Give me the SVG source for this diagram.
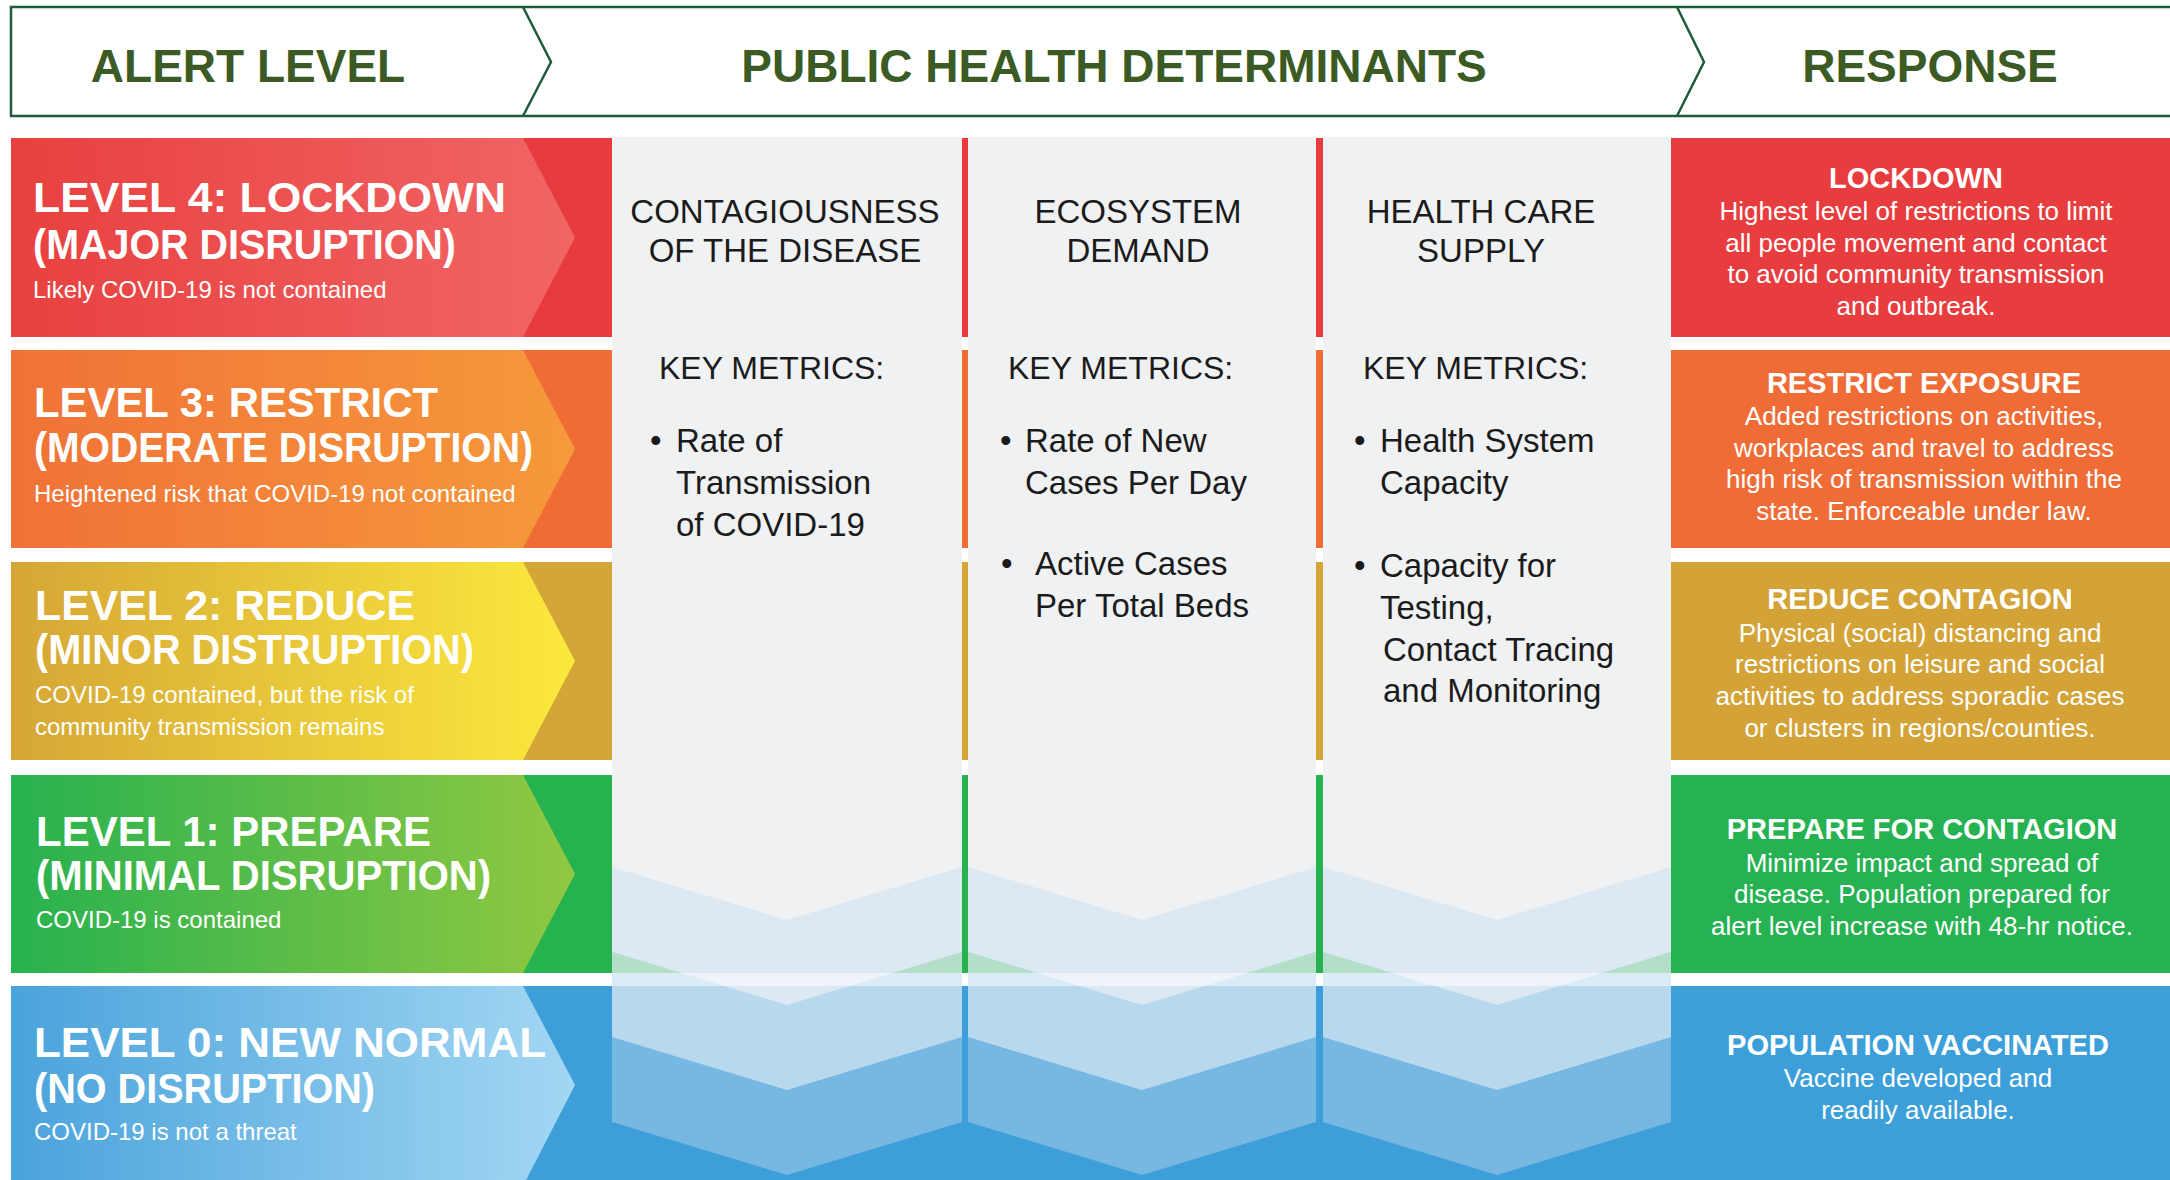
<svg xmlns="http://www.w3.org/2000/svg" width="2170" height="1180" viewBox="0 0 2170 1180">
<style>
text{font-family:"Liberation Sans",Arial,sans-serif}
.hdr{font-weight:bold;font-size:46px;fill:#3b5a24;text-anchor:middle}
.lt{font-weight:bold;font-size:42px;fill:#ffffff}
.ls{font-size:24px;fill:#ffffff}
.ch{font-size:33px;fill:#1b1b1b;text-anchor:middle}
.km{font-size:32px;fill:#1b1b1b}
.mt{font-size:33px;fill:#1b1b1b}
.rt{font-weight:bold;font-size:29px;fill:#ffffff;text-anchor:middle}
.rb{font-size:26px;fill:#ffffff;text-anchor:middle}
.col{fill:#f0f1f3}
.bA{fill:#dce9f2}
.bB{fill:#b8d8ee}
.bBg{fill:#b3dfc8}
.bC{fill:#77b8e3}
.bD{fill:#3d9ed9}
</style>
<defs>
<linearGradient id="g4" x1="0" y1="0" x2="1" y2="0"><stop offset="0" stop-color="#e8403f"/><stop offset="1" stop-color="#f16565"/></linearGradient>
<linearGradient id="g3" x1="0" y1="0" x2="1" y2="0"><stop offset="0" stop-color="#f07238"/><stop offset="1" stop-color="#f6993b"/></linearGradient>
<linearGradient id="g2" x1="0" y1="0" x2="1" y2="0"><stop offset="0" stop-color="#d5a636"/><stop offset="1" stop-color="#fce93d"/></linearGradient>
<linearGradient id="g1" x1="0" y1="0" x2="1" y2="0"><stop offset="0" stop-color="#27b24f"/><stop offset="1" stop-color="#91c841"/></linearGradient>
<linearGradient id="g0" x1="0" y1="0" x2="1" y2="0"><stop offset="0" stop-color="#4aa3dc"/><stop offset="1" stop-color="#a3d7f3"/></linearGradient>
</defs>

<rect x="0" y="0" width="2170" height="1180" fill="#ffffff"/>

<g id="header">
<path d="M2170,7 H11 V116 H2170" fill="none" stroke="#1e5b3c" stroke-width="2.5"/>
<path d="M523,7 L551,62 L523,116" fill="none" stroke="#1e5b3c" stroke-width="2.5"/>
<path d="M1677,7 L1704,62 L1677,116" fill="none" stroke="#1e5b3c" stroke-width="2.5"/>
<text class="hdr" x="248" y="82">ALERT LEVEL</text>
<text class="hdr" x="1114" y="82">PUBLIC HEALTH DETERMINANTS</text>
<text class="hdr" x="1930" y="82">RESPONSE</text>
</g>

<g id="level-4">
<rect x="11" y="138" width="601" height="199" fill="#e83b3e"/>
<polygon points="11,138 523,138 575,237.5 523,337 11,337" fill="url(#g4)"/>
<text class="lt" x="33" y="212" textLength="473" lengthAdjust="spacingAndGlyphs">LEVEL 4: LOCKDOWN</text>
<text class="lt" x="33" y="259" textLength="423" lengthAdjust="spacingAndGlyphs">(MAJOR DISRUPTION)</text>
<text class="ls" x="33" y="298">Likely COVID-19 is not contained</text>
</g>

<g id="level-3">
<rect x="11" y="350" width="601" height="198" fill="#ef6c35"/>
<polygon points="11,350 523,350 575,449 523,548 11,548" fill="url(#g3)"/>
<text class="lt" x="34" y="417" textLength="404" lengthAdjust="spacingAndGlyphs">LEVEL 3: RESTRICT</text>
<text class="lt" x="34" y="462" textLength="499" lengthAdjust="spacingAndGlyphs">(MODERATE DISRUPTION)</text>
<text class="ls" x="34" y="502">Heightened risk that COVID-19 not contained</text>
</g>

<g id="level-2">
<rect x="11" y="562" width="601" height="198" fill="#d4a537"/>
<polygon points="11,562 523,562 575,661 523,760 11,760" fill="url(#g2)"/>
<text class="lt" x="35" y="620" textLength="380" lengthAdjust="spacingAndGlyphs">LEVEL 2: REDUCE</text>
<text class="lt" x="35" y="664" textLength="439" lengthAdjust="spacingAndGlyphs">(MINOR DISTRUPTION)</text>
<text class="ls" x="35" y="703">COVID-19 contained, but the risk of</text>
<text class="ls" x="35" y="735">community transmission remains</text>
</g>

<g id="level-1">
<rect x="11" y="775" width="601" height="198" fill="#26b24f"/>
<polygon points="11,775 523,775 575,874 523,973 11,973" fill="url(#g1)"/>
<text class="lt" x="36" y="846" textLength="395" lengthAdjust="spacingAndGlyphs">LEVEL 1: PREPARE</text>
<text class="lt" x="36" y="890" textLength="455" lengthAdjust="spacingAndGlyphs">(MINIMAL DISRUPTION)</text>
<text class="ls" x="36" y="928">COVID-19 is contained</text>
</g>

<g id="level-0">
<rect x="11" y="986" width="601" height="200" fill="#3d9ed9"/>
<polygon points="11,986 523,986 575,1085 523,1186 11,1186" fill="url(#g0)"/>
<text class="lt" x="34" y="1057" textLength="512" lengthAdjust="spacingAndGlyphs">LEVEL 0: NEW NORMAL</text>
<text class="lt" x="34" y="1103" textLength="341" lengthAdjust="spacingAndGlyphs">(NO DISRUPTION)</text>
<text class="ls" x="34" y="1140">COVID-19 is not a threat</text>
</g>

<g id="dividers">
<rect x="962" y="138" width="6" height="199" fill="#e83b3e"/>
<rect x="962" y="350" width="6" height="198" fill="#ef6c35"/>
<rect x="962" y="562" width="6" height="198" fill="#d4a537"/>
<rect x="962" y="775" width="6" height="198" fill="#26b24f"/>
<rect x="962" y="986" width="6" height="194" fill="#3d9ed9"/>
<rect x="1316" y="138" width="7" height="199" fill="#e83b3e"/>
<rect x="1316" y="350" width="7" height="198" fill="#ef6c35"/>
<rect x="1316" y="562" width="7" height="198" fill="#d4a537"/>
<rect x="1316" y="775" width="7" height="198" fill="#26b24f"/>
<rect x="1316" y="986" width="7" height="194" fill="#3d9ed9"/>
</g>

<g id="col-contagiousness">
<rect class="col" x="612" y="137" width="350" height="1043"/>
<polygon class="bA" points="612,867 787,920 962,867 962,1180 612,1180"/>
<polygon class="bB" points="612,952 787,1005 962,952 962,1180 612,1180"/>
<polygon class="bBg" points="612,952 612,973 681,973"/>
<polygon class="bBg" points="962,952 962,973 893,973"/>
<polygon class="bC" points="612,1037 787,1090 962,1037 962,1180 612,1180"/>
<polygon class="bD" points="612,1122 787,1175 962,1122 962,1180 612,1180"/>
<text class="ch" x="785" y="223">CONTAGIOUSNESS</text>
<text class="ch" x="785" y="262">OF THE DISEASE</text>
<text class="km" x="659" y="379">KEY METRICS:</text>
<text class="mt" x="650" y="452">•</text>
<text class="mt" x="676" y="452">Rate of</text>
<text class="mt" x="676" y="494">Transmission</text>
<text class="mt" x="676" y="536">of COVID-19</text>
</g>

<g id="col-ecosystem">
<rect class="col" x="968" y="137" width="348" height="1043"/>
<polygon class="bA" points="968,867 1142,920 1316,867 1316,1180 968,1180"/>
<polygon class="bB" points="968,952 1142,1005 1316,952 1316,1180 968,1180"/>
<polygon class="bBg" points="968,952 968,973 1037,973"/>
<polygon class="bBg" points="1316,952 1316,973 1247,973"/>
<polygon class="bC" points="968,1037 1142,1090 1316,1037 1316,1180 968,1180"/>
<polygon class="bD" points="968,1122 1142,1175 1316,1122 1316,1180 968,1180"/>
<text class="ch" x="1138" y="223">ECOSYSTEM</text>
<text class="ch" x="1138" y="262">DEMAND</text>
<text class="km" x="1008" y="379">KEY METRICS:</text>
<text class="mt" x="1000" y="452">•</text>
<text class="mt" x="1025" y="452">Rate of New</text>
<text class="mt" x="1025" y="494">Cases Per Day</text>
<text class="mt" x="1001" y="575">•</text>
<text class="mt" x="1035" y="575">Active Cases</text>
<text class="mt" x="1035" y="617">Per Total Beds</text>
</g>

<g id="col-healthcare">
<rect class="col" x="1323" y="137" width="348" height="1043"/>
<polygon class="bA" points="1323,867 1497,920 1671,867 1671,1180 1323,1180"/>
<polygon class="bB" points="1323,952 1497,1005 1671,952 1671,1180 1323,1180"/>
<polygon class="bBg" points="1323,952 1323,973 1392,973"/>
<polygon class="bBg" points="1671,952 1671,973 1602,973"/>
<polygon class="bC" points="1323,1037 1497,1090 1671,1037 1671,1180 1323,1180"/>
<polygon class="bD" points="1323,1122 1497,1175 1671,1122 1671,1180 1323,1180"/>
<text class="ch" x="1481" y="223">HEALTH CARE</text>
<text class="ch" x="1481" y="262">SUPPLY</text>
<text class="km" x="1363" y="379">KEY METRICS:</text>
<text class="mt" x="1354" y="452">•</text>
<text class="mt" x="1380" y="452">Health System</text>
<text class="mt" x="1380" y="494">Capacity</text>
<text class="mt" x="1354" y="577">•</text>
<text class="mt" x="1380" y="577">Capacity for</text>
<text class="mt" x="1380" y="619">Testing,</text>
<text class="mt" x="1383" y="661">Contact Tracing</text>
<text class="mt" x="1383" y="702">and Monitoring</text>
</g>

<rect x="612" y="973" width="1059" height="13" fill="#ffffff" opacity="0.5"/>

<g id="response-4">
<rect x="1671" y="138" width="499" height="199" fill="#e83d3f"/>
<text class="rt" x="1916" y="188">LOCKDOWN</text>
<text class="rb" x="1916" y="220">Highest level of restrictions to limit</text>
<text class="rb" x="1916" y="252">all people movement and contact</text>
<text class="rb" x="1916" y="283">to avoid community transmission</text>
<text class="rb" x="1916" y="315">and outbreak.</text>
</g>

<g id="response-3">
<rect x="1671" y="350" width="499" height="198" fill="#ef6c36"/>
<text class="rt" x="1924" y="393">RESTRICT EXPOSURE</text>
<text class="rb" x="1924" y="425">Added restrictions on activities,</text>
<text class="rb" x="1924" y="457">workplaces and travel to address</text>
<text class="rb" x="1924" y="488">high risk of transmission within the</text>
<text class="rb" x="1924" y="520">state. Enforceable under law.</text>
</g>

<g id="response-2">
<rect x="1671" y="562" width="499" height="198" fill="#d3a337"/>
<text class="rt" x="1920" y="609">REDUCE CONTAGION</text>
<text class="rb" x="1920" y="642">Physical (social) distancing and</text>
<text class="rb" x="1920" y="673">restrictions on leisure and social</text>
<text class="rb" x="1920" y="705">activities to address sporadic cases</text>
<text class="rb" x="1920" y="737">or clusters in regions/counties.</text>
</g>

<g id="response-1">
<rect x="1671" y="775" width="499" height="198" fill="#26b252"/>
<text class="rt" x="1922" y="839">PREPARE FOR CONTAGION</text>
<text class="rb" x="1922" y="872">Minimize impact and spread of</text>
<text class="rb" x="1922" y="903">disease. Population prepared for</text>
<text class="rb" x="1922" y="935">alert level increase with 48-hr notice.</text>
</g>

<g id="response-0">
<rect x="1671" y="986" width="499" height="194" fill="#3d9fda"/>
<text class="rt" x="1918" y="1055">POPULATION VACCINATED</text>
<text class="rb" x="1918" y="1087">Vaccine developed and</text>
<text class="rb" x="1918" y="1119">readily available.</text>
</g>
</svg>
